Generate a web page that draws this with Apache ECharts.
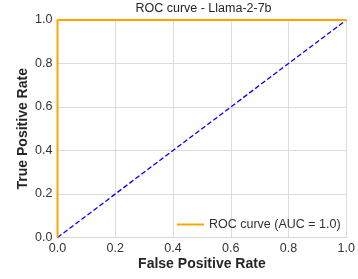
<!DOCTYPE html>
<html>
<head>
<meta charset="utf-8">
<script src="https://cdn.jsdelivr.net/npm/echarts@6/dist/echarts.min.js"></script>
<style>
    html, body { margin: 0; padding: 0; background: #fff; }
    #chart { width: 358px; height: 279px; }
</style>
</head>
<body>
<div id="chart"></div>
<script>
// ROC points (false positive rate, true positive rate)
var rocFpr = [0.0, 0.0, 1.0];
var rocTpr = [0.0, 1.0, 1.0];
// chance line
var diagFpr = [0.0, 1.0];
var diagTpr = [0.0, 1.0];
var tickLabels = ['0.0', '0.2', '0.4', '0.6', '0.8', '1.0'];
var aucLabel = 'ROC curve (AUC = 1.0)';

function pairs(xs, ys) {
    return xs.map(function (x, i) { return [x, ys[i]]; });
}

var font = 'Liberation Sans, Arial, sans-serif';
var chart = echarts.init(document.getElementById('chart'));

var axisCommon = {
    type: 'value',
    min: 0,
    max: 1,
    interval: 0.2,
    nameLocation: 'middle',
    nameMoveOverlap: false,
    nameTextStyle: { fontFamily: font, fontSize: 14, fontWeight: 'bold', color: '#262626' },
    axisLine: { show: true, lineStyle: { color: '#d6d6d6', width: 1 } },
    axisTick: { show: false },
    splitLine: { show: true, lineStyle: { color: '#dcdcdc', width: 1 } },
    axisLabel: {
        fontFamily: font, fontSize: 12.5, color: '#333', margin: 5,
        formatter: function (v) { return tickLabels[Math.round(v * 5)]; }
    }
};

var option = {
    animation: false,
    backgroundColor: '#fff',
    title: {
        text: 'ROC curve - Llama-2-7b',
        left: 203.5,
        textAlign: 'center',
        top: 2,
        padding: 0,
        textStyle: { fontFamily: font, fontSize: 12.5, fontWeight: 'normal', color: '#262626' }
    },
    grid: { left: 57.5, right: 8.5, top: 20, bottom: 41.5 },
    legend: {
        left: 172,
        top: 213,
        data: [{ name: aucLabel, icon: 'rect' }],
        itemWidth: 27,
        itemHeight: 2,
        itemGap: 10,
        textStyle: { fontFamily: font, fontSize: 12.5, color: '#333' }
    },
    xAxis: Object.assign({}, axisCommon, {
        name: 'False Positive Rate',
        nameGap: 20
    }),
    yAxis: Object.assign({}, axisCommon, {
        name: 'True Positive Rate',
        nameGap: 27
    }),
    series: [
        {
            name: aucLabel,
            type: 'line',
            data: pairs(rocFpr, rocTpr),
            showSymbol: false,
            symbol: 'none',
            itemStyle: { color: '#FFA500' },
            lineStyle: { color: '#FFA500', width: 2 },
            z: 3
        },
        {
            name: 'chance',
            type: 'line',
            data: pairs(diagFpr, diagTpr),
            showSymbol: false,
            symbol: 'none',
            lineStyle: { color: '#0000FF', width: 1.3, type: [5, 2.5] },
            z: 2
        }
    ]
};
chart.setOption(option);
</script>
</body>
</html>
